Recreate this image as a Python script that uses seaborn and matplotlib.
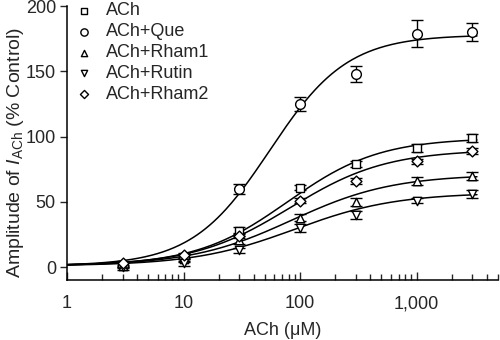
import numpy as np
import pandas as pd
import matplotlib
matplotlib.use("Agg")
import matplotlib.pyplot as plt
import seaborn as sns
from matplotlib.ticker import FixedLocator, LogLocator, NullFormatter, FixedFormatter

# ---- data ----
conc = [3, 10, 30, 100, 300, 1000, 3000]
series_names = ["ACh", "ACh+Que", "ACh+Rham1", "ACh+Rutin", "ACh+Rham2"]
ach_vals = [2, 8, 28, 61, 79, 91, 99]
ach_err = [2, 2, 3, 2, 2, 3, 3]
que_vals = [2, 8, 60, 125, 148, 179, 180]
que_err = [2, 2, 4, 5, 6, 10, 7]
rham1_vals = [1, 6, 21, 38, 50, 66, 70]
rham1_err = [2, 2, 3, 3, 3, 3, 3]
rutin_vals = [0, 3, 13, 30, 40, 51, 56]
rutin_err = [2, 2, 2, 3, 3, 2, 3]
rham2_vals = [3, 9, 24, 51, 66, 81, 89]
rham2_err = [2, 2, 2, 2, 2, 2, 2]
# Hill fit parameters: top, EC50, Hill slope
fit_top = [99, 178, 71, 57, 90]
fit_ec50 = [78, 55, 85, 90, 82]
fit_n = [1.1, 1.3, 1.0, 1.0, 1.05]
fit_bottom = 1.0
markers = ["s", "o", "^", "v", "D"]
marker_sizes = [6, 7, 6, 6, 5.5]

vals = [ach_vals, que_vals, rham1_vals, rutin_vals, rham2_vals]
errs = [ach_err, que_err, rham1_err, rutin_err, rham2_err]

sns.set_style("ticks")
plt.rcParams["font.family"] = ["Liberation Sans", "DejaVu Sans"]
plt.rcParams["mathtext.fontset"] = "custom"
plt.rcParams["mathtext.rm"] = "Liberation Sans"
plt.rcParams["mathtext.it"] = "Liberation Sans:italic"

fig = plt.figure(figsize=(5, 3.4), dpi=100)
ax = fig.add_axes([0.134, 0.176, 0.862, 0.806])

xfit = np.logspace(0, np.log10(3300), 300)
for i, name in enumerate(series_names):
    yfit = fit_bottom + (fit_top[i] - fit_bottom) / (1 + (fit_ec50[i] / xfit) ** fit_n[i])
    sns.lineplot(x=xfit, y=yfit, ax=ax, color="black", lw=1.1, legend=False)

for i, name in enumerate(series_names):
    ax.errorbar(conc, vals[i], yerr=errs[i], fmt="none", ecolor="black",
                elinewidth=1.0, capsize=4, capthick=1.0, zorder=3)
    df = pd.DataFrame({"x": conc, "y": vals[i]})
    sns.scatterplot(data=df, x="x", y="y", ax=ax, marker=markers[i],
                    s=marker_sizes[i] ** 2, facecolor="white", edgecolor="black",
                    linewidth=1.0, zorder=4, label=name)

ax.set_xscale("log")
ax.set_xlim(1, 5000)
ax.set_ylim(-10, 200)
ax.set_yticks([0, 50, 100, 150, 200])
ax.xaxis.set_major_locator(FixedLocator([1, 10, 100, 1000]))
ax.xaxis.set_major_formatter(FixedFormatter(["1", "10", "100", "1,000"]))
ax.xaxis.set_minor_locator(LogLocator(base=10, subs=np.arange(2, 10), numticks=20))
ax.xaxis.set_minor_formatter(NullFormatter())
ax.tick_params(axis="x", which="major", direction="in", length=6, width=1, labelsize=13, pad=11)
ax.tick_params(axis="x", which="minor", direction="in", length=4, width=1)
ax.tick_params(axis="y", which="major", direction="out", length=5, width=1, labelsize=13, pad=3)
for s in ["top", "right"]:
    ax.spines[s].set_visible(False)
for s in ["left", "bottom"]:
    ax.spines[s].set_linewidth(1.1)
    ax.spines[s].set_color("black")

ax.set_xlabel("ACh (μM)", fontsize=13, labelpad=7)
ax.set_ylabel(r"Amplitude of $\mathit{I}_{\mathrm{ACh}}$ (% Control)", fontsize=14)
ax.yaxis.set_label_coords(-0.095, 0.467)

leg = ax.legend(loc="upper left", bbox_to_anchor=(-0.01, 1.06), frameon=False, fontsize=13,
                handlelength=1.0, handletextpad=0.7, labelspacing=0.22, markerscale=0.75,
                borderaxespad=0.3)

fig.savefig("out.png", dpi=100)
